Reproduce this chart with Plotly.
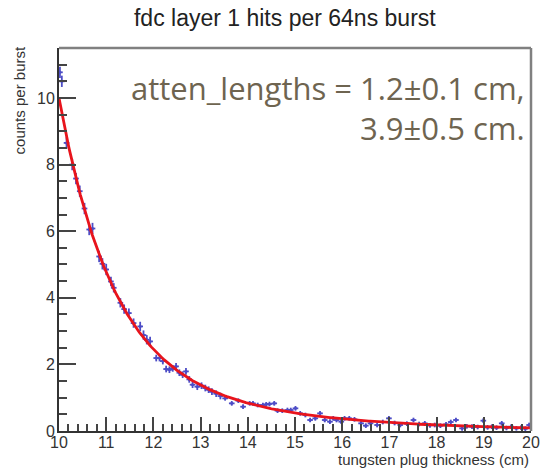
import numpy as np
import plotly.graph_objects as go

# ---- data ----
thickness_cm = [10.02, 10.06, 10.16, 10.28, 10.36, 10.44, 10.54, 10.64, 10.71, 10.85,
                10.92, 11.00, 11.10, 11.16, 11.30, 11.38, 11.48, 11.58, 11.72, 11.79,
                11.86, 11.93, 12.06, 12.13, 12.20, 12.27, 12.34, 12.41, 12.48, 12.55,
                12.62, 12.69, 12.76, 12.83, 12.93, 13.02, 13.10, 13.17, 13.24, 13.33,
                13.42, 13.52, 13.66, 13.80, 13.90, 14.04, 14.11, 14.21, 14.32, 14.39,
                14.46, 14.56, 14.63, 14.73, 14.84, 14.91, 15.01, 15.11, 15.22, 15.32,
                15.43, 15.53, 15.63, 15.74, 15.81, 15.88, 15.98, 16.05, 16.15, 16.26,
                16.40, 16.50, 16.60, 16.74, 16.86, 16.99, 17.11, 17.23, 17.37, 17.51,
                17.63, 17.75, 17.86, 17.96, 18.08, 18.20, 18.30, 18.41, 18.54, 18.64,
                18.75, 18.87, 18.99, 19.08, 19.17, 19.27, 19.38, 19.48, 19.58, 19.69,
                19.79, 19.88, 19.96]
counts_per_burst = [10.77, 10.50, 8.65, 8.00, 7.58, 7.20, 6.68, 6.05, 6.08, 5.24,
                    5.02, 4.85, 4.49, 4.30, 3.85, 3.66, 3.54, 3.24, 3.14, 2.88,
                    2.74, 2.69, 2.19, 2.19, 2.10, 1.86, 1.84, 1.88, 1.94, 1.75,
                    1.69, 1.79, 1.55, 1.39, 1.33, 1.36, 1.29, 1.24, 1.18, 1.12,
                    1.05, 0.98, 0.83, 0.91, 0.73, 0.83, 0.83, 0.78, 0.78, 0.80,
                    0.81, 0.83, 0.61, 0.61, 0.63, 0.63, 0.68, 0.53, 0.48, 0.33,
                    0.38, 0.53, 0.33, 0.28, 0.38, 0.33, 0.28, 0.38, 0.38, 0.35,
                    0.23, 0.16, 0.23, 0.18, 0.27, 0.38, 0.24, 0.18, 0.22, 0.33,
                    0.21, 0.23, 0.17, 0.18, 0.16, 0.20, 0.27, 0.33, 0.08, 0.14,
                    0.13, 0.12, 0.31, 0.11, 0.13, 0.10, 0.23, 0.09, 0.13, 0.08,
                    0.10, 0.07, 0.18]
# vertical error half-size by thickness range (upper edge, error)
err_ranges = [(11.0, 0.17), (12.0, 0.14), (13.5, 0.10), (20.5, 0.07)]
bin_half_width = 0.06

# double-exponential fit as drawn
fit_amp = [7.7, 2.3]
fit_len = [1.1, 3.1]

x_ticks = [10, 11, 12, 13, 14, 15, 16, 17, 18, 19, 20]
y_ticks = [0, 2, 4, 6, 8, 10]

err_y = []
for xv in thickness_cm:
    for edge, e in err_ranges:
        if xv <= edge:
            err_y.append(e)
            break

xf = np.linspace(10, 20, 400)
yf = sum(a * np.exp(-(xf - 10) / L) for a, L in zip(fit_amp, fit_len))

blue = "#4d4dc6"
fig = go.Figure()
fig.add_trace(go.Scatter(
    x=thickness_cm, y=counts_per_burst, mode="markers",
    marker=dict(color=blue, size=3),
    error_y=dict(type="data", array=err_y, color=blue, thickness=1.8, width=0),
    error_x=dict(type="constant", value=bin_half_width, color=blue, thickness=1.8, width=0),
    showlegend=False,
))
fig.add_trace(go.Scatter(
    x=xf, y=yf, mode="lines", line=dict(color="#e8141c", width=2.8), showlegend=False,
))

sans = "Liberation Sans, Arial, sans-serif"
axis_font = dict(family=sans, size=16, color="#333333")
fig.update_layout(
    width=552, height=468,
    margin=dict(l=59, r=12, t=48, b=37),
    paper_bgcolor="white", plot_bgcolor="white",
    title=dict(text="fdc layer 1 hits per 64ns burst", x=0.516, xanchor="center",
               y=0.962, yanchor="middle",
               font=dict(family=sans, size=23, color="#222222")),
    xaxis=dict(range=[10, 20], tickvals=x_ticks, ticktext=[str(v) for v in x_ticks],
               showgrid=False, zeroline=False, showline=True, linecolor="#333333", linewidth=2,
               ticks="inside", ticklen=14, tickwidth=1.5, tickcolor="#444444",
               minor=dict(ticks="inside", ticklen=7, tickwidth=1.5, tickcolor="#444444", dtick=0.2, showgrid=False),
               tickfont=axis_font, ticklabelstandoff=-4),
    yaxis=dict(range=[0, 11.5], tickvals=y_ticks, ticktext=[str(v) for v in y_ticks],
               showgrid=False, zeroline=False, showline=True, linecolor="#333333", linewidth=2,
               ticks="inside", ticklen=17, tickwidth=1.5, tickcolor="#444444",
               minor=dict(ticks="inside", ticklen=8, tickwidth=1.5, tickcolor="#444444", dtick=0.5, showgrid=False),
               tickfont=axis_font, ticklabelstandoff=-1),
)
# grey frame on top and right
fig.add_shape(type="line", xref="paper", yref="paper", x0=0, x1=1, y0=1, y1=1,
              line=dict(color="#808080", width=2.5), layer="above")
fig.add_shape(type="line", xref="paper", yref="paper", x0=1, x1=1, y0=0, y1=1,
              line=dict(color="#808080", width=2.5), layer="above")
# axis titles (ROOT style, right-aligned)
fig.add_annotation(text="tungsten plug thickness (cm)", xref="paper", yref="paper",
                   x=1.0, y=-0.046, xanchor="right", yanchor="top", showarrow=False,
                   font=dict(family=sans, size=15, color="#333333"))
fig.add_annotation(text="counts per burst", xref="paper", yref="paper", textangle=-90,
                   x=-0.062, y=1.01, xanchor="right", yanchor="top", showarrow=False,
                   font=dict(family=sans, size=15, color="#333333"))
fig.add_annotation(text="atten_lengths = 1.2±0.1 cm,<br>3.9±0.5 cm.", xref="paper", yref="paper",
                   x=0.992, y=0.955, xanchor="right", yanchor="top", align="right", showarrow=False,
                   font=dict(family="Open Sans, sans-serif", size=31, color="#6e6450"))

fig.write_html("out.html")
